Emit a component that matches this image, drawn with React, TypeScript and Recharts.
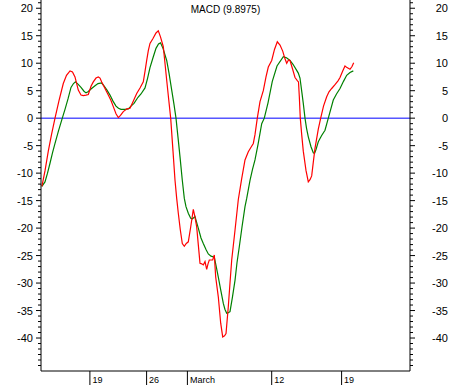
import React from 'react';
import { LineChart, Line, XAxis, YAxis, ReferenceLine } from 'recharts';

// time index (sessions), MACD values
const macdT = [0.3, 1.33, 2.43, 3.5, 4.67, 6, 7.43, 8.5, 9.67, 10.5, 11.33, 12.43, 13.33, 14.1, 15, 15.77, 16.67, 17.43, 18.33, 19.1, 19.67, 20.23, 21.33, 22.43, 23.33, 24.1, 25, 25.77, 26.5, 27.43, 28.67, 29.67, 30.67, 31.9, 33, 34.1, 34.67, 35.23, 35.77, 36.33, 37.33, 38.33, 39.1, 39.83, 40.77, 41.33, 41.9, 42.57, 43.23, 44, 44.67, 45.23, 45.77, 46.43, 47.1, 47.77, 48.43, 49.1, 49.9, 50.77, 51.33, 51.9, 52.43, 53, 53.57, 54.1, 54.67, 55.23, 55.67, 56.1, 57.23, 57.77, 58.23, 59.1, 59.9, 60.57, 61.17, 61.67, 62.43, 63, 63.57, 64.67, 65.77, 66.9, 68, 69.1, 70, 70.77, 71.33, 72.1, 73, 74.1, 75, 75.77, 76.9, 77.83, 78.77, 79.67, 80.57, 81.33, 81.9, 82.5, 83, 83.83, 84.67, 85.5, 85.83, 86.1, 86.43, 86.9, 87.43, 88.33, 89.1, 89.67, 90.23, 90.77, 91.33, 92.43, 93.23, 94.17, 95.23, 96, 96.9, 98, 99, 99.67, 100.5, 101.33, 102, 103, 103.67, 104.23];
const macdV = [-12.4, -9.6, -6, -3, 0, 3.2, 6.3, 7.8, 8.6, 8.4, 7.5, 5.1, 4.2, 4.1, 4.2, 4.3, 5.8, 6.6, 7.3, 7.5, 7.3, 6.6, 5.4, 4.2, 3.2, 2.1, 0.8, 0.1, 0.5, 1.2, 1.7, 1.8, 3.0, 4.5, 5.5, 6.6, 8.5, 10.5, 12.3, 13.6, 14.5, 15.5, 15.9, 14.8, 13, 10, 6.9, 3.4, 0, -6, -11.3, -14.6, -17.3, -20.3, -22.8, -23.3, -22.8, -22.5, -19.8, -16.6, -18, -19.8, -23, -26.4, -26.5, -26.7, -26.1, -27.5, -26.5, -25.8, -25.8, -24.9, -28.9, -32.5, -37.3, -39.8, -39.6, -39.2, -34.3, -30, -25.8, -20.4, -14.8, -11, -7.6, -6.1, -5.3, -4.6, -3, 0, 3, 5, 7.5, 9.3, 10.5, 12.5, 13.9, 13.3, 12.2, 10.8, 10.0, 10.6, 10.5, 9.0, 7.4, 6.8, 6.6, 4, 0, -3, -6, -9.5, -11.6, -11.2, -10.5, -8, -5.5, -2, 0, 2.2, 3.9, 4.8, 5.4, 6.1, 6.8, 7.4, 8.5, 9.5, 9.2, 8.9, 9.4, 10.1];

// signal line
const signalT = [0.3, 1.33, 2.17, 3, 3.83, 4.67, 5.83, 7.1, 8, 9, 10, 10.83, 11.5, 12.33, 13.33, 14.33, 15, 15.67, 16.67, 18, 19, 20.23, 21, 22, 23, 24, 25, 25.83, 26.67, 28, 29.1, 30, 31, 32.33, 33.33, 34.67, 35.5, 36.33, 37.33, 38.33, 39.17, 39.83, 40.67, 41.9, 42.67, 43.57, 44.33, 45, 45.67, 46.33, 47.1, 47.77, 48.33, 49.1, 49.9, 50.5, 51.33, 52.43, 53.33, 54.1, 55, 55.77, 56.67, 57.77, 58.33, 59.1, 60, 60.77, 61.33, 61.9, 62.43, 63, 63.83, 64.67, 65.33, 66.1, 67, 68, 68.57, 69.67, 70.5, 71.33, 72.33, 73.57, 74.43, 75.67, 77.1, 78.67, 80.77, 81.83, 83, 84, 85.23, 85.77, 86.33, 87, 87.43, 88, 88.5, 89.1, 90, 90.77, 91.17, 91.67, 92.43, 93.5, 94.67, 95.77, 97.43, 98.5, 99.67, 100.83, 101.9, 103, 104.1];
const signalV = [-12.4, -11.6, -10, -8.2, -6.3, -4.6, -2.3, 0, 1.6, 3.5, 5.6, 6.3, 6.6, 6.2, 5.6, 4.9, 4.6, 4.8, 5.3, 5.9, 6.3, 6.4, 5.9, 5.1, 4.2, 3.1, 2.2, 1.8, 1.6, 1.6, 1.7, 2.2, 2.7, 3.8, 4.4, 5.5, 7.2, 9.2, 11, 12.7, 13.5, 13.7, 12.7, 10.5, 8.2, 5.1, 2.5, 0, -3.5, -7, -11.3, -14.6, -16.1, -17.3, -18.2, -18.3, -17.9, -20, -21.8, -22.8, -23.9, -24.7, -25.1, -25.3, -26.8, -28.9, -31.5, -33.7, -34.8, -35.5, -35.4, -35.2, -32.5, -29.5, -26.3, -23.4, -19.8, -16.1, -14.6, -11.3, -9.3, -7.6, -4.8, -1, 0, 2.8, 6.7, 9.5, 11.2, 11.0, 10.5, 9.8, 8.7, 8.2, 7.3, 4.5, 2.7, 0, -1.8, -3.4, -5.2, -6.3, -6.4, -5.7, -4.3, -3.2, -2.2, 0, 3.3, 4.4, 5.4, 6.7, 7.8, 8.3, 8.6];

const xTickPos = [16.3, 35.2, 48.8, 76.9, 100.2];
const xTickLabels = ['19', '26', 'March', '12', '19'];
const yMajorTicks = [20, 15, 10, 5, 0, -5, -10, -15, -20, -25, -30, -35, -40];
const yMinorTicks = Array.from({ length: 67 }, (_, i) => 21 - i);

const title = 'MACD (9.8975)';

const macdData = macdT.map((t, i) => ({ t, v: macdV[i] }));
const signalData = signalT.map((t, i) => ({ t, v: signalV[i] }));

const FONT = '"Liberation Sans", Arial, sans-serif';

const LeftTick = (props: any) => {
  const { x, y, payload } = props;
  const major = yMajorTicks.includes(payload.value);
  const ax = 41;
  return (
    <g>
      <line x1={ax - (major ? 5 : 3)} x2={ax} y1={y} y2={y} stroke="#000" strokeWidth={1} />
      {major && (
        <text x={33} y={y + 4} textAnchor="end" fontSize={11} fontFamily={FONT} fill="#000">
          {payload.value}
        </text>
      )}
    </g>
  );
};

const RightTick = (props: any) => {
  const { y, payload } = props;
  const major = yMajorTicks.includes(payload.value);
  const ax = 410;
  return (
    <g>
      <line x1={ax} x2={ax + (major ? 5 : 3)} y1={y} y2={y} stroke="#000" strokeWidth={1} />
      {major && (
        <text x={448} y={y + 4} textAnchor="end" fontSize={11} fontFamily={FONT} fill="#000">
          {payload.value}
        </text>
      )}
    </g>
  );
};

const BottomTick = (props: any) => {
  const { x, payload } = props;
  const idx = xTickPos.indexOf(payload.value);
  const y0 = 371;
  return (
    <g>
      <line x1={x} x2={x} y1={y0} y2={y0 + 14} stroke="#000" strokeWidth={1} />
      <text x={x + 2.5} y={y0 + 12} fontSize={9} fontFamily={FONT} fill="#000">
        {xTickLabels[idx]}
      </text>
    </g>
  );
};

export default function App() {
  return (
    <div style={{ position: 'absolute', left: 0, top: 0, width: 451, height: 385, background: '#fff' }}>
      <LineChart width={451} height={385} margin={{ top: 0, right: 0, bottom: 0, left: 0 }}>
        <XAxis
          type="number"
          dataKey="t"
          domain={[0, 123]}
          ticks={xTickPos}
          interval={0}
          tickLine={false}
          tickSize={0}
          height={14}
          tick={<BottomTick />}
          axisLine={{ stroke: '#000' }}
          allowDuplicatedCategory={false}
        />
        <YAxis
          yAxisId="l"
          orientation="left"
          width={41}
          domain={[-46, 21.5]}
          ticks={yMinorTicks}
          interval={0}
          tickLine={false}
          tick={<LeftTick />}
          axisLine={{ stroke: '#000' }}
          allowDataOverflow
        />
        <YAxis
          yAxisId="r"
          orientation="right"
          width={41}
          domain={[-46, 21.5]}
          ticks={yMinorTicks}
          interval={0}
          tickLine={false}
          tick={<RightTick />}
          axisLine={{ stroke: '#000' }}
          allowDataOverflow
        />
        <ReferenceLine yAxisId="l" y={0} stroke="#0000ff" strokeWidth={1} />
        <Line
          yAxisId="l"
          data={signalData}
          dataKey="v"
          type="linear"
          stroke="#008000"
          strokeWidth={1.2}
          dot={false}
          isAnimationActive={false}
        />
        <Line
          yAxisId="l"
          data={macdData}
          dataKey="v"
          type="linear"
          stroke="#ff0000"
          strokeWidth={1.2}
          dot={false}
          isAnimationActive={false}
        />
        <text x={225.5} y={12.5} textAnchor="middle" fontSize={10} fontFamily={FONT} fill="#000">
          {title}
        </text>
      </LineChart>
    </div>
  );
}
